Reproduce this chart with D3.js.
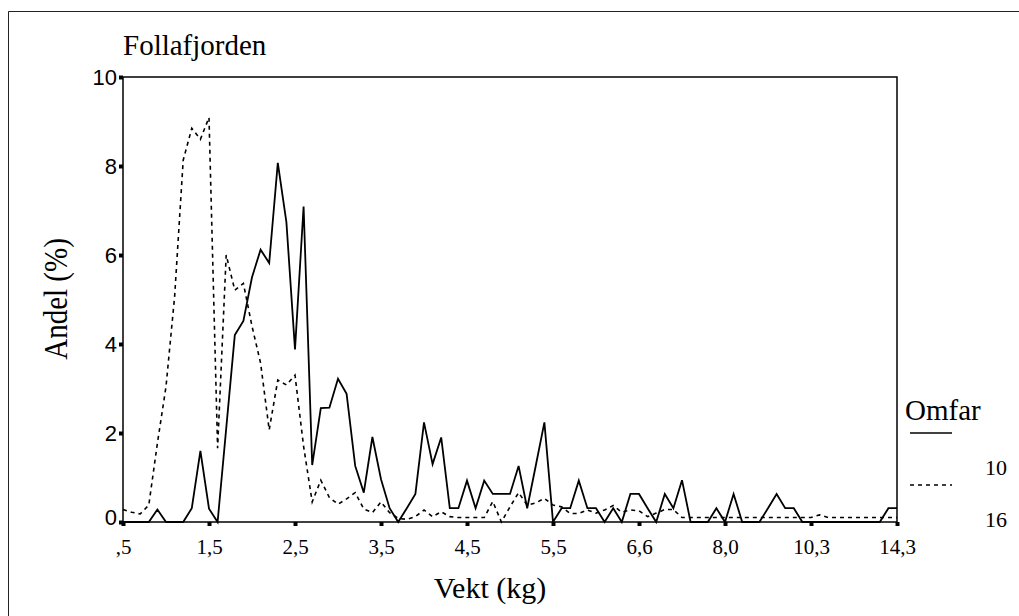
<!DOCTYPE html>
<html>
<head>
<meta charset="utf-8">
<title>Follafjorden</title>
<script src="https://d3js.org/d3.v7.min.js"></script>
<style>
body { margin: 0; background: #fff; }
svg { display: block; }
</style>
</head>
<body>
<svg id="chart" width="1019" height="616"></svg>
<script>
// weight classes: only every 10th class carries a label
const tickIdx = [0, 10, 20, 30, 40, 50, 60, 70, 80, 90];
const tickLabels = [',5', '1,5', '2,5', '3,5', '4,5', '5,5', '6,6', '8,0', '10,3', '14,3'];
const yTicks = [0, 2, 4, 6, 8, 10];

// share (%) per weight class, Omfar 10
const omfar10 = [0, 0, 0, 0, 0.28, 0, 0, 0, 0.31, 1.6,
  0.3, 0, 2.1, 4.2, 4.52, 5.5, 6.12, 5.82, 8.07, 6.74,
  3.88, 7.09, 1.28, 2.56, 2.57, 3.22, 2.88, 1.26, 0.66, 1.91,
  0.96, 0.31, 0, 0.31, 0.63, 2.24, 1.3, 1.9, 0.31, 0.31,
  0.93, 0.31, 0.93, 0.63, 0.63, 0.63, 1.26, 0.31, 1.27, 2.24,
  0, 0.31, 0.31, 0.93, 0.31, 0.31, 0, 0.31, 0, 0.63,
  0.63, 0.31, 0, 0.63, 0.31, 0.94, 0, 0, 0, 0.31,
  0, 0.63, 0, 0, 0, 0.31, 0.63, 0.31, 0.31, 0,
  0, 0, 0, 0, 0, 0, 0, 0, 0, 0.31,
  0.31];

// share (%) per weight class, Omfar 16
const omfar16 = [0.28, 0.22, 0.18, 0.38, 1.77, 3.04, 5.06, 8.13, 8.85, 8.6,
  9.09, 1.66, 6.0, 5.21, 5.36, 4.4, 3.57, 2.07, 3.19, 3.08,
  3.3, 1.7, 0.45, 0.94, 0.55, 0.4, 0.52, 0.66, 0.29, 0.21,
  0.45, 0.21, 0.08, 0.06, 0.12, 0.27, 0.12, 0.23, 0.12, 0.1,
  0.1, 0.1, 0.1, 0.46, 0, 0.34, 0.66, 0.38, 0.43, 0.53,
  0.38, 0.34, 0.19, 0.19, 0.27, 0.2, 0.27, 0.37, 0.22, 0.27,
  0.25, 0.12, 0.2, 0.28, 0.28, 0.1, 0.1, 0.1, 0.1, 0.1,
  0.1, 0.1, 0.1, 0.1, 0.1, 0.1, 0.1, 0.1, 0.1, 0.1,
  0.1, 0.16, 0.1, 0.1, 0.1, 0.1, 0.1, 0.1, 0.1, 0.1,
  0.1];

const seriesNames = ['10', '16'];
const serif = '"Liberation Serif", "Times New Roman", serif';
const sans = '"Liberation Sans", Arial, sans-serif';

const svg = d3.select('#chart');
const m = {left: 123, right: 897, top: 77, bottom: 522};

const x = d3.scaleLinear().domain([0, omfar10.length - 1]).range([m.left, m.right]);
const y = d3.scaleLinear().domain([0, 10]).range([m.bottom, m.top]);

// outer frame (left + top only visible)
svg.append('path')
  .attr('d', 'M8.5,616 V11.5 H1019')
  .attr('fill', 'none')
  .attr('stroke', '#222')
  .attr('stroke-width', 1);

// title
svg.append('text')
  .attr('x', 123).attr('y', 55)
  .attr('font-family', serif).attr('font-size', 29)
  .text('Follafjorden');

// plot box
svg.append('rect')
  .attr('x', m.left).attr('y', m.top)
  .attr('width', m.right - m.left).attr('height', m.bottom - m.top)
  .attr('fill', 'none').attr('stroke', '#000').attr('stroke-width', 1.5);

// axes
const yAxis = svg.append('g')
  .attr('transform', `translate(${m.left},0)`)
  .call(d3.axisLeft(y).tickValues(yTicks).tickSize(4).tickPadding(2).tickFormat(d3.format('d')));
yAxis.select('.domain').remove();
yAxis.selectAll('line').attr('stroke-width', 4);
yAxis.selectAll('text')
  .attr('font-family', sans).attr('font-size', 22).attr('fill', '#000')
  .attr('dy', d => d === 0 ? '0.1em' : '0.32em');

const xAxis = svg.append('g')
  .attr('transform', `translate(0,${m.bottom})`)
  .call(d3.axisBottom(x).tickValues(tickIdx).tickSize(4).tickPadding(13)
    .tickFormat((d, i) => tickLabels[i]));
xAxis.select('.domain').remove();
xAxis.selectAll('line').attr('stroke-width', 4);
xAxis.selectAll('text')
  .attr('font-family', serif).attr('font-size', 21).attr('fill', '#000');

// axis titles
svg.append('text')
  .attr('transform', 'translate(67,299) rotate(-90) scale(1,1.15)')
  .attr('text-anchor', 'middle')
  .attr('font-family', serif).attr('font-size', 29)
  .text('Andel (%)');

svg.append('text')
  .attr('x', 490).attr('y', 598)
  .attr('text-anchor', 'middle')
  .attr('font-family', serif).attr('font-size', 30)
  .text('Vekt (kg)');

// lines
const line = d3.line().x((d, i) => x(i)).y(d => y(d));

svg.append('path')
  .datum(omfar16)
  .attr('d', line)
  .attr('fill', 'none').attr('stroke', '#000')
  .attr('stroke-width', 1.6).attr('stroke-dasharray', '4,4');

svg.append('path')
  .datum(omfar10)
  .attr('d', line)
  .attr('fill', 'none').attr('stroke', '#000')
  .attr('stroke-width', 1.8).attr('stroke-linejoin', 'miter');

// legend
svg.append('text')
  .attr('x', 905).attr('y', 420)
  .attr('font-family', serif).attr('font-size', 29)
  .text('Omfar');

const dashes = ['none', '4,4'];
seriesNames.forEach((name, i) => {
  const ly = 433 + i * 52;
  svg.append('line')
    .attr('x1', 910).attr('x2', 952)
    .attr('y1', ly).attr('y2', ly)
    .attr('stroke', '#000').attr('stroke-width', 1.5)
    .attr('stroke-dasharray', dashes[i]);
  svg.append('text')
    .attr('x', 985).attr('y', ly + 42)
    .attr('font-family', serif).attr('font-size', 22)
    .text(name);
});
</script>
</body>
</html>
